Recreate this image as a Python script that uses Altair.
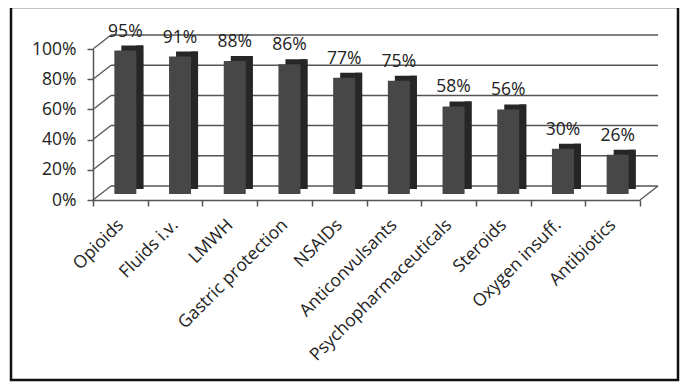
import altair as alt
import pandas as pd

categories = ["Opioids", "Fluids i.v.", "LMWH", "Gastric protection", "NSAIDs",
              "Anticonvulsants", "Psychopharmaceuticals", "Steroids",
              "Oxygen insuff.", "Antibiotics"]
values = [0.95, 0.91, 0.88, 0.86, 0.77, 0.75, 0.58, 0.56, 0.30, 0.26]
grid_levels = [0.0, 0.2, 0.4, 0.6, 0.8, 1.0]

W, H = 547, 151
DX, DY = 18, -14  # depth offset of back wall
FONT = "Open Sans"

bars = pd.DataFrame({"cat": categories, "v": values})
levels = pd.DataFrame({"lvl": grid_levels})

xaxis = alt.Axis(labelAngle=315, labelAlign="right", labelBaseline="middle",
                 labelFont=FONT, labelFontSize=17.5, labelColor="#222", labelLimit=400,
                 labelPadding=16, tickBand="extent", tickSize=6,
                 domainColor="#555", tickColor="#555", domainWidth=1.5, tickWidth=1.5)
xenc = alt.X("cat:N", sort=categories, title=None,
             scale=alt.Scale(paddingInner=0, paddingOuter=0), axis=xaxis)
yscale = alt.Scale(domain=[0, 1])
yaxis = alt.Axis(values=grid_levels, format=".0%", grid=False,
                 labelFont=FONT, labelFontSize=17.5, labelColor="#222",
                 labelPadding=11, tickSize=6, domainColor="#555",
                 tickColor="#555", domainWidth=1.5, tickWidth=1.5)
yenc = alt.Y("v:Q", scale=yscale, title=None, axis=yaxis)

back_grid = alt.Chart(levels).mark_rule(color="#555", strokeWidth=1.5, yOffset=DY).encode(
    y=alt.Y("lvl:Q", scale=yscale, title=None, axis=yaxis),
    x=alt.value(DX), x2=alt.value(W + DX))

left_diag = alt.Chart(levels).mark_rule(color="#555", strokeWidth=1.3, y2Offset=DY).encode(
    y=alt.Y("lvl:Q", scale=yscale, title=None, axis=yaxis), y2="lvl:Q",
    x=alt.value(0), x2=alt.value(DX))

right_diag = alt.Chart(pd.DataFrame({"a": [0]})).mark_rule(color="#555", strokeWidth=1.3).encode(
    x=alt.value(W), x2=alt.value(W + DX), y=alt.value(H), y2=alt.value(H + DY))

border = alt.Chart(pd.DataFrame({"a": [0]})).mark_rect(
    filled=False, stroke="#111", strokeWidth=2.5, clip=False
).encode(x=alt.value(-82), x2=alt.value(585), y=alt.value(-42), y2=alt.value(331))

back_face = alt.Chart(bars).mark_bar(
    color="#262626", width=22, xOffset=12, yOffset=-11, y2Offset=-11
).encode(x=xenc, y=yenc)

side_face = alt.Chart(bars).mark_bar(
    color="#262626", width=7, xOffset=19.5, yOffset=-11, y2Offset=-8
).encode(x=xenc, y=yenc)

front_face = alt.Chart(bars).mark_bar(
    color="#474747", width=22, xOffset=5, yOffset=-6, y2Offset=-6
).encode(x=xenc, y=yenc)

labels = alt.Chart(bars).mark_text(
    font=FONT, fontSize=17.5, color="#222", baseline="alphabetic", dx=5, dy=-20
).encode(x=xenc, y=yenc, text=alt.Text("v:Q", format=".0%"))

chart = alt.layer(
    back_grid, left_diag, right_diag, border, back_face, side_face, front_face, labels
).properties(
    width=W, height=H,
    autosize=alt.AutoSizeParams(type="none"),
    padding={"left": 85, "top": 41, "right": 44, "bottom": 182},
    background="white",
).configure_view(stroke=None)

chart.save("out.html", embed_options={"renderer": "svg", "actions": False})
